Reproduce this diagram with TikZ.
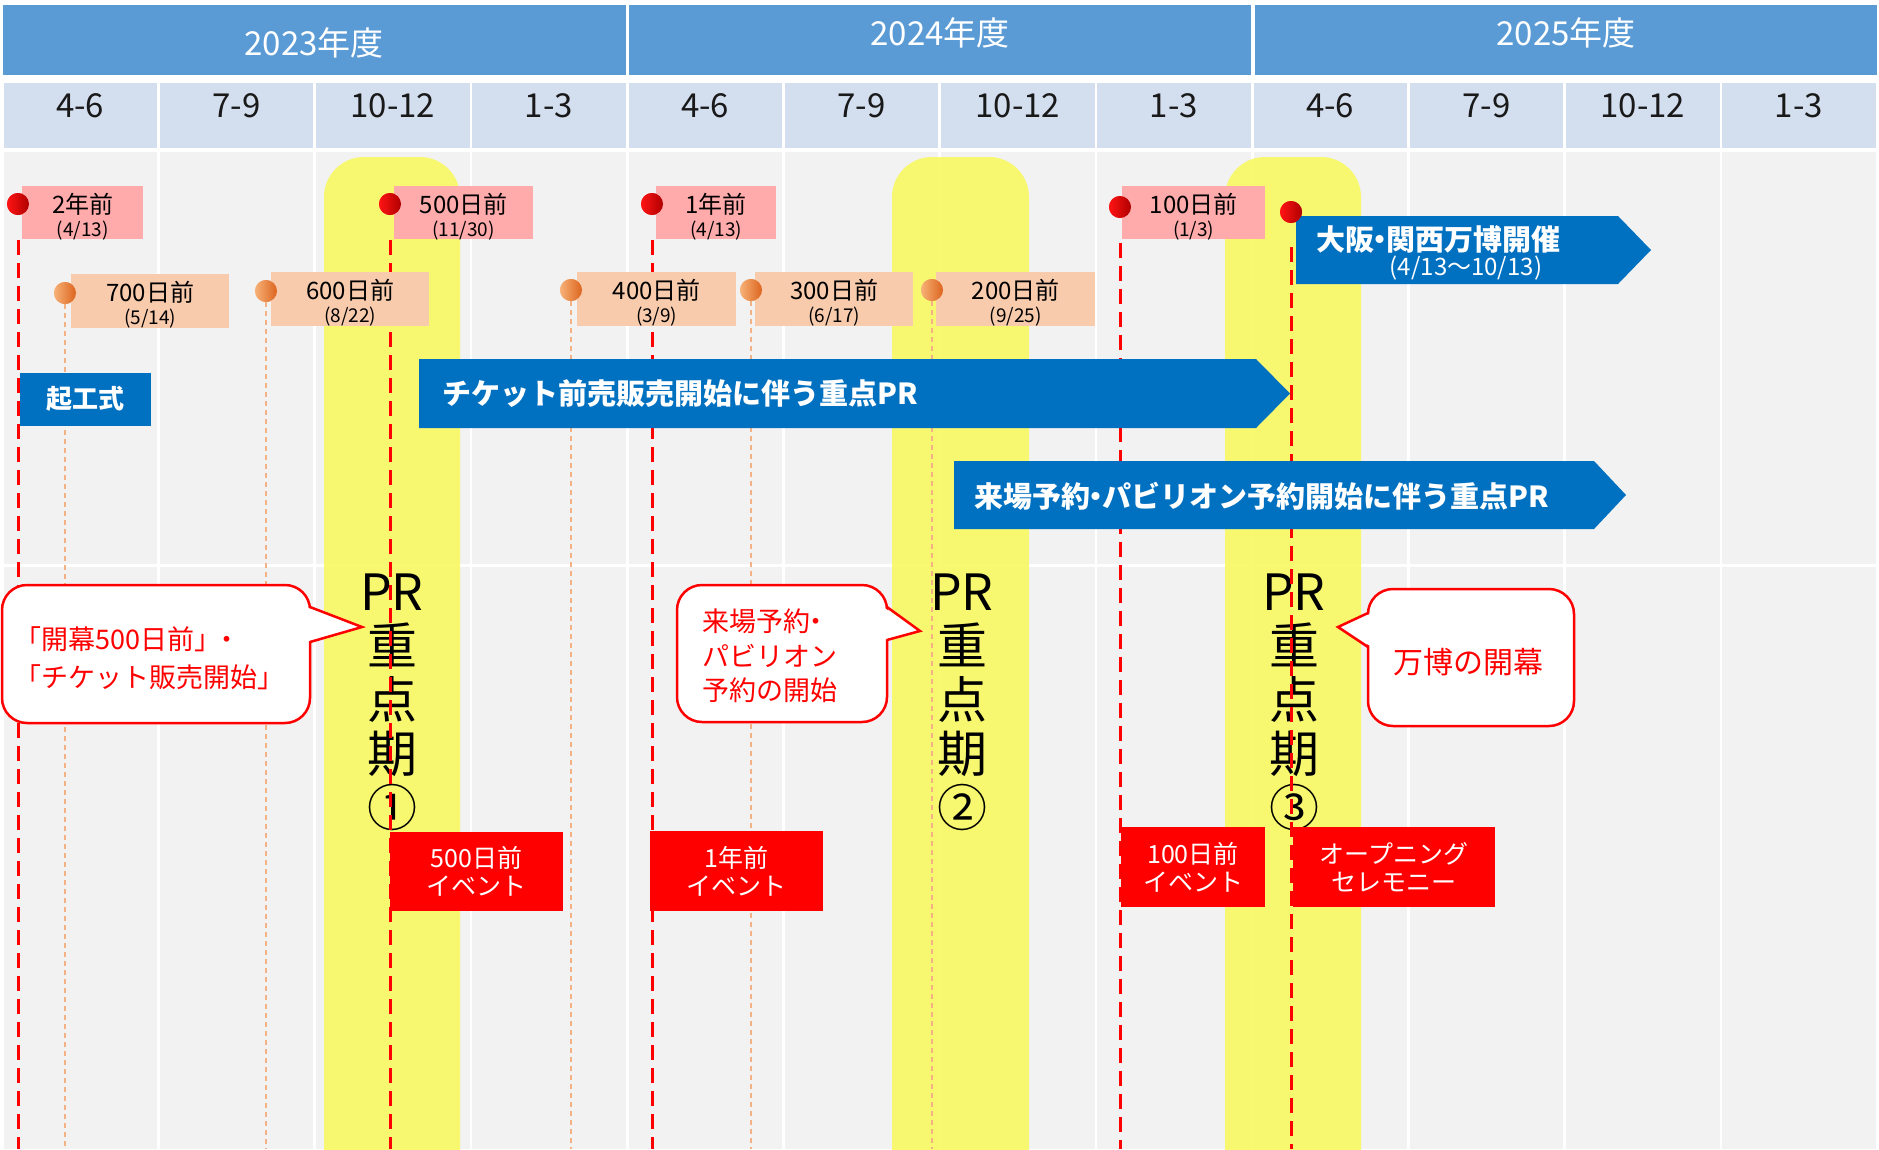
\documentclass[tikz,border=0pt]{standalone}
\usepackage{fontspec}
\setmainfont{Noto Sans CJK JP}
\usetikzlibrary{calc}
\definecolor{yearblue}{HTML}{5B9BD5}
\definecolor{qblue}{HTML}{D3DEEF}
\definecolor{bodygray}{HTML}{F2F2F2}
\definecolor{hiyellow}{RGB}{248,248,98}
\definecolor{barblue}{HTML}{0070C0}
\definecolor{pinkfill}{HTML}{FFABAB}
\definecolor{peachfill}{HTML}{F8CBAD}
\definecolor{orangeline}{HTML}{F4B183}
\definecolor{dotredA}{RGB}{255,20,20}
\definecolor{dotredB}{RGB}{175,0,0}
\definecolor{dotorA}{RGB}{247,178,120}
\definecolor{dotorB}{RGB}{220,100,30}
\tikzset{
  yeartext/.style={text=white, font=\fontsize{33}{38}\selectfont},
  qtext/.style={text=black!90, font=\fontsize{33}{38}\selectfont},
  hilite/.style={fill=hiyellow, fill opacity=0.9, rounded corners=40pt},
  reddash/.style={red, line width=3pt, dash pattern=on 15pt off 8pt},
  orangedash/.style={orangeline, line width=1.2pt, dash pattern=on 5pt off 4pt},
  reddot/.style={circle, minimum size=22pt, inner sep=0pt, left color=dotredA, right color=dotredB},
  orangedot/.style={circle, minimum size=22pt, inner sep=0pt, left color=dotorA, right color=dotorB},
  datebox/.style={anchor=north west, inner sep=0pt},
  datetext/.style={inner sep=0pt, align=center, text=black, font=\fontsize{24}{23}\selectfont},
  pinklabel/.style={datebox, fill=pinkfill, minimum height=53pt},
  peachlabel/.style={datebox, fill=peachfill, minimum height=54pt},
  eventbox/.style={fill=red, text=white, align=center, inner sep=0pt,
    font=\fontsize{25}{28}\selectfont},
  bluetext/.style={text=white, font=\bfseries\fontsize{29}{32}\selectfont},
  calloutbox/.style={draw=red, fill=white, line width=2.5pt, rounded corners=25pt},
  calloutptr/.style={draw=red, line width=2.5pt, line join=miter},
  callouttext/.style={text=red, align=left, inner sep=0pt},
  prtext/.style={align=center, text=black, font=\fontsize{50}{54}\selectfont},
}
\newcommand{\sublab}[1]{\\\fontsize{19}{23}\selectfont #1}
\newcommand{\ndot}{\kern-0.3em・\kern-0.3em}
\begin{document}
\begin{tikzpicture}[x=1pt,y=-1pt]
\useasboundingbox (0,0) rectangle (1879,1149);
\fill[white] (0,0) rectangle (1879,1149);
\coordinate (bot) at (0,1149);

% year header
\fill[yearblue] (3,5) rectangle (626,75);
\fill[yearblue] (629,5) rectangle (1251,75);
\fill[yearblue] (1255,5) rectangle (1877,75);
\node[yeartext] (y23) at (314,43) {2023年度};
\node[yeartext] (y24) at (940,33) {2024年度};
\node[yeartext] (y25) at (1566,33) {2025年度};

% quarter header and body columns
\foreach \i/\lab in {0/4-6,1/7-9,2/10-12,3/1-3,4/4-6,5/7-9,6/10-12,7/1-3,8/4-6,9/7-9,10/10-12,11/1-3}{
  \pgfmathsetmacro{\xl}{3.5+\i*156.25}
  \pgfmathsetmacro{\xr}{\xl+153.5}
  \pgfmathsetmacro{\xc}{\xl+76.75}
  \fill[qblue] (\xl,83) rectangle (\xr,148);
  \node[qtext] (q\i) at (\xc,106) {\lab};
  \fill[bodygray] (\xl,152) rectangle (\xr,564);
  \fill[bodygray] (\xl,567) rectangle (\xr,1149);
}

% highlight periods
\fill[hilite] (324,157) rectangle (460,1200);
\fill[hilite] (892,157) rectangle (1029,1200);
\fill[hilite] (1225,157) rectangle (1361,1200);

% PR periods
\node[prtext] (pr1) at (392,702) {PR\\重\\点\\期\\①};
\node[prtext] (pr2) at (962,702) {PR\\重\\点\\期\\②};
\node[prtext] (pr3) at (1294,702) {PR\\重\\点\\期\\③};

% dots (positions)
\node[reddot] (r1) at (18,204) {};
\node[reddot] (r2) at (390,204) {};
\node[reddot] (r3) at (652,204) {};
\node[reddot] (r4) at (1120,207) {};
\node[reddot] (r5) at (1291,212) {};
\node[orangedot] (o1) at (65,293) {};
\node[orangedot] (o2) at (266,291) {};
\node[orangedot] (o3) at (571,290) {};
\node[orangedot] (o4) at (751,290) {};
\node[orangedot] (o5) at (932,290) {};

% guide lines
\foreach \o in {o1,o2,o3,o4,o5}{
  \draw[orangedash] (\o.south) -- (\o |- bot);
}
\foreach \r in {r1,r2,r3,r4}{
  \draw[reddash, shorten <=36pt] (\r.center) -- (\r |- bot);
}
\draw[reddash, shorten <=35pt] (r5.center) -- (r5 |- bot);

% blue arrows
\fill[barblue] (419,359) -- (1256,359) -- (1290,393.5) -- (1256,428) -- (419,428) -- cycle;
\node[bluetext, anchor=west] (tk) at (439,394) {チケット前売販売開始に伴う重点PR};
\fill[barblue] (954,461) -- (1594,461) -- (1626,495) -- (1594,529) -- (954,529) -- cycle;
\node[bluetext, anchor=west] (rj) at (971,496) {来場予約\ndot パビリオン予約開始に伴う重点PR};
\fill[barblue] (1296,216) -- (1618,216) -- (1651,250) -- (1618,284) -- (1296,284) -- cycle;
\node[bluetext, anchor=west] (expo) at (1313,239) {大阪\ndot 関西万博開催};
\node[text=white, font=\fontsize{24}{26}\selectfont] (expodate) at (1466,268) {(4/13〜10/13)};
\node[fill=barblue, text=white, font=\bfseries\fontsize{26}{30}\selectfont,
  minimum width=131pt, minimum height=53pt, inner sep=0pt] (kiko) at (85,399) {起工式};

% callouts
\draw[calloutbox] (2,585) rectangle (310,723);
\fill[white] (306,607) -- (362,627) -- (306,642) -- cycle;
\draw[calloutptr] (310,607) -- (362,627) -- (310,642);
\node[callouttext, anchor=west, font=\fontsize{27}{38}\selectfont] (c1) at (14,658)
  {「開幕500日前」\kern-0.3em・\\「チケット販売開始」};

\draw[calloutbox] (677,585) rectangle (887,722);
\fill[white] (883,607) -- (920,631) -- (883,640) -- cycle;
\draw[calloutptr] (887,607) -- (920,631) -- (887,640);
\node[callouttext, anchor=west, font=\fontsize{27}{34.5}\selectfont] (c2) at (702,656)
  {来場予約\kern-0.3em・\\パビリオン\\予約の開始};

\draw[calloutbox] (1368,589) rectangle (1574,726);
\fill[white] (1372,613) -- (1338,627) -- (1372,647) -- cycle;
\draw[calloutptr] (1368,613) -- (1338,627) -- (1368,647);
\node[callouttext, font=\fontsize{30}{32}\selectfont] (c3) at (1468,662) {万博の開幕};

% event boxes
\node[eventbox, minimum width=173pt, minimum height=79pt] (e1) at (476.5,871.5) {500日前\\イベント};
\node[eventbox, minimum width=173pt, minimum height=80pt] (e2) at (736.5,871) {1年前\\イベント};
\node[eventbox, minimum width=144pt, minimum height=80pt] (e3) at (1193,867) {100日前\\イベント};
\node[eventbox, minimum width=202pt, minimum height=80pt] (e4) at (1394,867) {オープニング\\セレモニー};

% date labels
\node[pinklabel, minimum width=121pt] (l1) at (22,186) {};
\node[pinklabel, minimum width=139pt] (l2) at (394,186) {};
\node[pinklabel, minimum width=120pt] (l3) at (656,186) {};
\node[pinklabel, minimum width=143pt] (l4) at (1122,186) {};
\node[peachlabel, minimum width=158pt] (m1) at (71,274) {};
\node[peachlabel, minimum width=158pt] (m2) at (271,272) {};
\node[peachlabel, minimum width=159pt] (m3) at (577,272) {};
\node[peachlabel, minimum width=158pt] (m4) at (755,272) {};
\node[peachlabel, minimum width=159pt] (m5) at (936,272) {};
\node[datetext] (l1t) at ($(l1.center)+(0,4)$) {2年前\sublab{(4/13)}};
\node[datetext] (l2t) at ($(l2.center)+(0,4)$) {500日前\sublab{(11/30)}};
\node[datetext] (l3t) at ($(l3.center)+(0,4)$) {1年前\sublab{(4/13)}};
\node[datetext] (l4t) at ($(l4.center)+(0,4)$) {100日前\sublab{(1/3)}};
\node[datetext] (m1t) at ($(m1.center)+(0,4)$) {700日前\sublab{(5/14)}};
\node[datetext] (m2t) at ($(m2.center)+(0,4)$) {600日前\sublab{(8/22)}};
\node[datetext] (m3t) at ($(m3.center)+(0,4)$) {400日前\sublab{(3/9)}};
\node[datetext] (m4t) at ($(m4.center)+(0,4)$) {300日前\sublab{(6/17)}};
\node[datetext] (m5t) at ($(m5.center)+(0,4)$) {200日前\sublab{(9/25)}};

% redraw dots on top
\foreach \p in {{(18,204)},{(390,204)},{(652,204)},{(1120,207)},{(1291,212)}}{
  \node[reddot] at \p {};
}
\foreach \p in {{(65,293)},{(266,291)},{(571,290)},{(751,290)},{(932,290)}}{
  \node[orangedot] at \p {};
}
\end{tikzpicture}
\end{document}
